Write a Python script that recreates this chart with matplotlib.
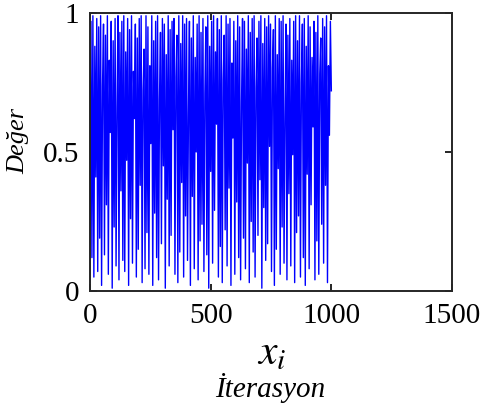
import matplotlib.pyplot as plt
import numpy as np

plt.rcParams['font.family'] = ['Liberation Serif', 'DejaVu Serif']
plt.rcParams['mathtext.fontset'] = 'stix'

# values, one every 4 iterations
step = 4
values = [
    0.03, 0.97, 0.12, 0.99, 0.05, 0.88, 0.41, 0.98, 0.07, 0.95,
    0.19, 0.99, 0.02, 0.74, 0.96, 0.13, 0.92, 0.31, 0.99, 0.06,
    0.83, 0.57, 0.97, 0.01, 0.90, 0.23, 0.98, 0.09, 0.66, 0.99,
    0.04, 0.93, 0.36, 0.97, 0.11, 0.99, 0.07, 0.86, 0.47, 0.98,
    0.02, 0.94, 0.26, 0.99, 0.10, 0.79, 0.62, 0.96, 0.05, 0.91,
    0.15, 0.98, 0.38, 0.99, 0.03, 0.72, 0.87, 0.08, 0.99, 0.21,
    0.95, 0.06, 0.81, 0.53, 0.99, 0.02, 0.90, 0.28, 0.97, 0.12,
    0.99, 0.04, 0.69, 0.93, 0.17, 0.98, 0.45, 0.96, 0.01, 0.85,
    0.33, 0.99, 0.09, 0.94, 0.20, 0.97, 0.58, 0.98, 0.06, 0.77,
    0.92, 0.03, 0.99, 0.14, 0.89, 0.39, 0.99, 0.05, 0.96, 0.27,
    0.98, 0.11, 0.64, 0.97, 0.02, 0.91, 0.34, 0.99, 0.08, 0.84,
    0.50, 0.96, 0.04, 0.99, 0.18, 0.93, 0.24, 0.98, 0.07, 0.71,
    0.95, 0.13, 0.99, 0.01, 0.88, 0.43, 0.97, 0.10, 0.99, 0.29,
    0.86, 0.60, 0.98, 0.05, 0.94, 0.16, 0.99, 0.03, 0.76, 0.92,
    0.22, 0.99, 0.09, 0.96, 0.37, 0.98, 0.02, 0.82, 0.55, 0.97,
    0.06, 0.90, 0.32, 0.99, 0.12, 0.95, 0.04, 0.68, 0.98, 0.19,
    0.97, 0.08, 0.87, 0.46, 0.99, 0.03, 0.93, 0.25, 0.98, 0.14,
    0.99, 0.05, 0.73, 0.91, 0.20, 0.97, 0.40, 0.99, 0.01, 0.89,
    0.30, 0.98, 0.11, 0.95, 0.17, 0.99, 0.52, 0.96, 0.07, 0.80,
    0.94, 0.02, 0.99, 0.15, 0.85, 0.44, 0.98, 0.06, 0.97, 0.23,
    0.99, 0.10, 0.63, 0.96, 0.04, 0.92, 0.35, 0.98, 0.09, 0.83,
    0.49, 0.97, 0.03, 0.99, 0.21, 0.90, 0.27, 0.99, 0.05, 0.75,
    0.96, 0.12, 0.98, 0.02, 0.88, 0.42, 0.99, 0.08, 0.95, 0.31,
    0.84, 0.59, 0.97, 0.04, 0.93, 0.18, 0.99, 0.06, 0.78, 0.91,
    0.24, 0.98, 0.10, 0.95, 0.38, 0.99, 0.03, 0.81, 0.56, 0.97,
    0.72,
]
iterations = np.arange(len(values)) * step

xticks = [0, 500, 1000, 1500]
yticks = [0, 0.5, 1]
ytick_labels = ['0', '0.5', '1']

fig = plt.figure(figsize=(4.8, 4.09), dpi=100)
ax = fig.add_axes([0.1875, 0.2886, 0.7542, 0.6797])

ax.plot(iterations, values, color='#0000ff', linewidth=1.0)

ax.set_xlim(0, 1500)
ax.set_ylim(0, 1)
ax.set_xticks(xticks)
ax.set_xticklabels([str(t) for t in xticks])
ax.set_yticks(yticks)
ax.set_yticklabels(ytick_labels)
ax.tick_params(direction='in', length=5, width=1.2, labelsize=21,
               top=True, right=True, colors='black')
ax.tick_params(axis='x', pad=9)
ax.tick_params(axis='y', pad=8)
for sp in ax.spines.values():
    sp.set_linewidth(1.4)
    sp.set_color('#262626')

fig.text(0.038, 0.655, 'Değer', rotation=90, ha='center', va='center',
         fontsize=19, style='italic')
fig.text(0.565, 0.135, '$x_i$', ha='center', va='center', fontsize=30)
fig.text(0.562, 0.052, 'İterasyon', ha='center', va='center',
         fontsize=21, style='italic')

fig.savefig('out.png', dpi=100)
plt.close(fig)
